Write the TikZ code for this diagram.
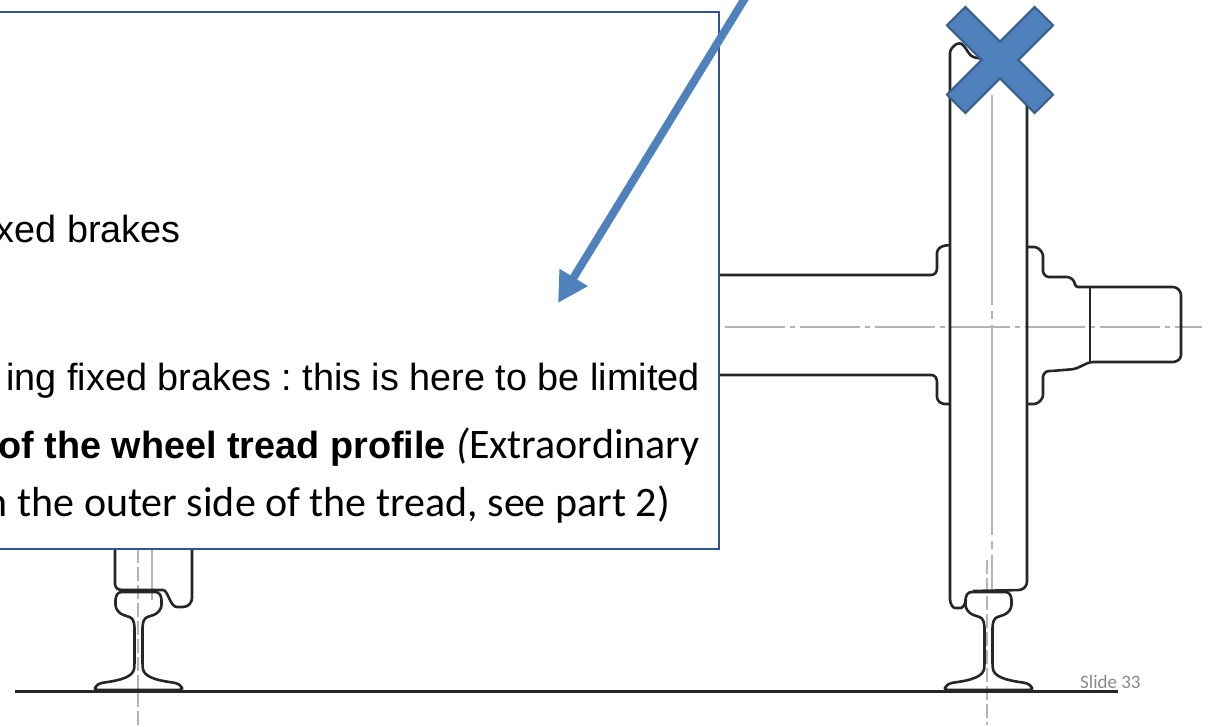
\documentclass[tikz,border=0pt]{standalone}
\usepackage{fontspec}
\setmainfont{Liberation Sans}
\newfontfamily\calibri{Carlito}
\usetikzlibrary{arrows.meta}
\frenchspacing

\definecolor{boxblue}{RGB}{47,85,151}
\definecolor{arrowblue}{RGB}{79,129,189}
\definecolor{crossedge}{RGB}{56,93,138}
\definecolor{axisgray}{RGB}{180,180,180}
\definecolor{slidegray}{RGB}{137,137,137}

\begin{document}
\begin{tikzpicture}[x=1pt, y=-1pt,
  part/.style={line width=2.6pt, black!85, line join=round, rounded corners=3pt},
  axis/.style={line width=1.8pt, axisgray},
  every node/.style={inner sep=0pt, font=\fontsize{37.8}{45}\selectfont}]
  \useasboundingbox (0,0) rectangle (1216,727);
  \clip (0,0) rectangle (1216,727);

  % Center lines
  \draw[axis, dash pattern=on 60pt off 5pt on 5pt off 5pt] (725,327) -- (1202,327);
  \draw[axis, dash pattern=on 210pt off 6pt on 8pt off 6pt] (992,95) -- (992,590);
  \draw[axis, dash pattern=on 14pt off 4pt] (987,560) -- (987,725);
  \draw[axis, dash pattern=on 14pt off 4pt] (138,549) -- (138,725);
  \draw[axis] (152,549) -- (152,600);

  % Ground
  \draw[part, line width=3pt] (15,691) -- (1118,691);

  % Rails
  \foreach \cx in {138.5, 988.5}{
    \draw[part, shift={(\cx,0)}] (-20,592) -- (20,592) -- (23,597) -- (23,608) -- (18,614)
      -- (6,618) -- (4,625) -- (4,665) .. controls (5,676) and (15,680) .. (38,683)
      -- (43,686) -- (44,690) -- (-44,690) -- (-43,686) -- (-38,683)
      .. controls (-15,680) and (-5,676) .. (-4,665) -- (-4,625) -- (-6,618)
      -- (-18,614) -- (-23,608) -- (-23,597) -- cycle;
  }

  % Left wheel
  \draw[part] (115,540) -- (115,587) -- (119,590) -- (160,590)
    .. controls (168,590) and (170,607) .. (180,607)
    .. controls (188,607) and (192,603) .. (192,595) -- (192,540);

  % Right wheel
  \draw[part] (966,600) .. controls (965,605) and (962,608) .. (958,608)
    .. controls (953,608) and (950,604) .. (950,596) -- (950,50) -- (957,43)
    .. controls (965,44) and (968,55) .. (976,58) -- (1020,62) -- (1027,70)
    -- (1027,585) -- (1022,590) -- (973,591);

  % Axle and hubs
  \draw[part] (700,275) -- (928,275) .. controls (935,275) and (937,272) .. (937,265)
    -- (937,250) -- (942,246) -- (950,245);
  \draw[part] (700,375) -- (928,375) .. controls (935,375) and (937,378) .. (937,385)
    -- (937,400) -- (942,404) -- (950,404);
  \draw[part] (1027,247) -- (1037,247) -- (1043,253) -- (1043,268)
    .. controls (1043,274) and (1046,277) .. (1052,277) -- (1070,277) -- (1075,282)
    -- (1075,287) -- (1176,287) -- (1181,292) -- (1181,358) -- (1176,362)
    -- (1090,362) -- (1075,369) -- (1052,371)
    .. controls (1046,371) and (1043,374) .. (1043,380) -- (1043,398)
    -- (1037,404) -- (1027,404);
  \draw[part] (1090,287) -- (1090,362);

  % Text box
  \draw[boxblue, line width=1.5pt, fill=white] (-20,12) rectangle (719,549);
  \node[anchor=base east] (brakes) at (181,243) {xed brakes};
  \node[anchor=base east] (limited) at (700,391) {ing fixed brakes : this is here to be limited};
  \node[anchor=base east] (profile) at (700,458)
    {\textbf{of the wheel tread profile} {\calibri\fontsize{42}{50}\selectfont\itshape(}\calibri\fontsize{42}{50}\selectfont Extraordinary};
  \node[anchor=base east, font=\calibri\fontsize{42}{50}\selectfont] (tread) at (670,516)
    {n the outer side of the tread, see part 2)};

  % Arrow
  \coordinate (from) at (750,-10);
  \coordinate (to) at (558,303);
  \draw[arrowblue, line width=8pt, -{Triangle[length=30pt, width=31pt]}] (from) -- (to);

  % Cross
  \filldraw[fill=arrowblue, draw=crossedge, line width=2pt, shift={(1000,60)}, rotate=45]
    (13,13) -- (62,13) -- (62,-13) -- (13,-13) -- (13,-62) -- (-13,-62) -- (-13,-13)
    -- (-62,-13) -- (-62,13) -- (-13,13) -- (-13,62) -- (13,62) -- cycle;

  % Slide number
  \node[anchor=base west, text=slidegray, font=\calibri\fontsize{19}{21}\selectfont] (slideno) at (1080,688) {Slide 33};
\end{tikzpicture}
\end{document}
